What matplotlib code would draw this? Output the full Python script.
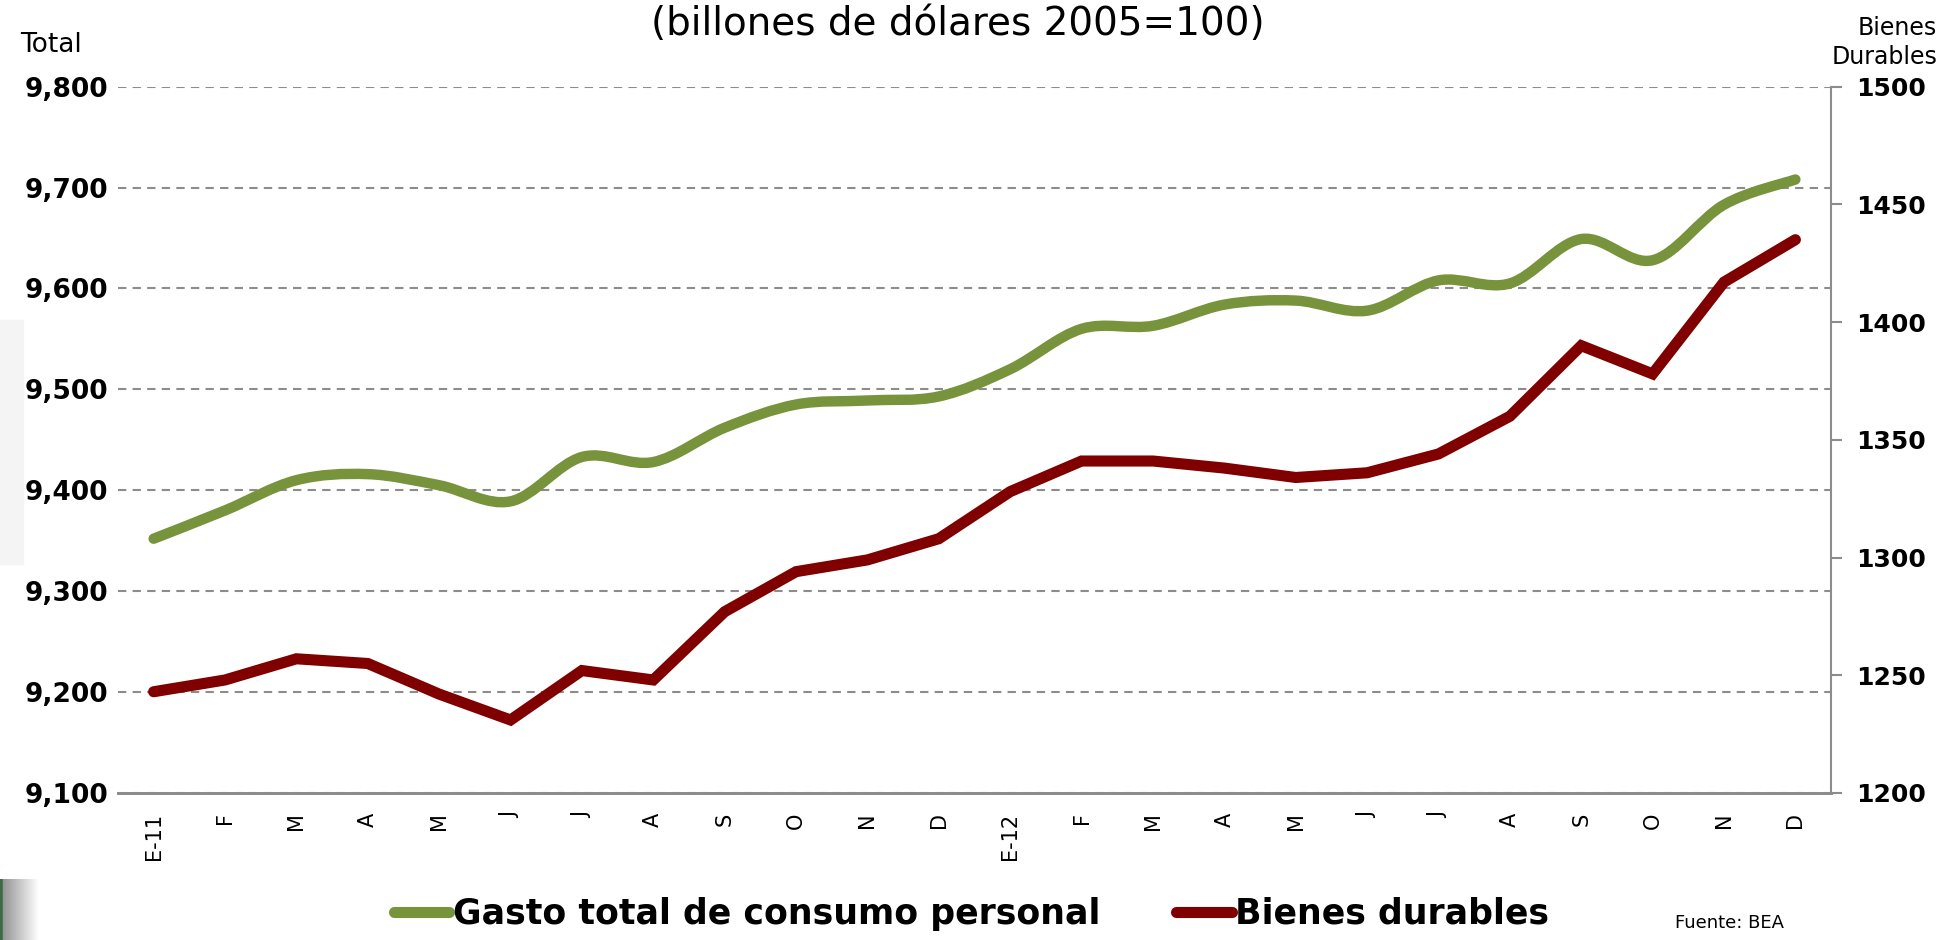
import numpy as np
import matplotlib.pyplot as plt
from matplotlib.path import Path
from matplotlib.patches import PathPatch, Rectangle
from matplotlib.lines import Line2D
from matplotlib.ticker import FuncFormatter, MultipleLocator

meses = ['E-11', 'F', 'M', 'A', 'M', 'J', 'J', 'A', 'S', 'O', 'N', 'D',
         'E-12', 'F', 'M', 'A', 'M', 'J', 'J', 'A', 'S', 'O', 'N', 'D']
gasto_total = [9352, 9380, 9410, 9416, 9405, 9389, 9433, 9428, 9462, 9485, 9489, 9493,
               9520, 9560, 9563, 9584, 9588, 9578, 9608, 9605, 9649, 9628, 9683, 9708]
bienes_durables = [1243, 1248, 1257, 1255, 1242, 1231, 1252, 1248, 1277, 1294, 1299, 1308,
                   1328, 1341, 1341, 1338, 1334, 1336, 1344, 1360, 1390, 1378, 1417, 1435]

verde = '#77933C'
rojo = '#800000'
gris = '#8C8C8C'

fig = plt.figure(figsize=(19.43, 9.40), dpi=100)

# slide decorations at the left edge
fig.patches.append(Rectangle((0, 0.40), 0.012, 0.26, transform=fig.transFigure,
                             color='#f4f4f4', zorder=0))

ax = fig.add_axes([0.0607, 0.1564, 0.8817, 0.7514])
ax2 = ax.twinx()

x = np.arange(len(meses))

# smoothed line (excel style) built as bezier path through the data points
pts = np.column_stack([x, gasto_total]).astype(float)
verts = [pts[0]]
codes = [Path.MOVETO]
for i in range(len(pts) - 1):
    p0 = pts[i - 1] if i > 0 else pts[i]
    p1 = pts[i]
    p2 = pts[i + 1]
    p3 = pts[i + 2] if i + 2 < len(pts) else pts[i + 1]
    c1 = p1 + (p2 - p0) / 6
    c2 = p2 - (p3 - p1) / 6
    verts += [c1, c2, p2]
    codes += [Path.CURVE4] * 3
ax.add_patch(PathPatch(Path(verts, codes), facecolor='none', edgecolor=verde,
                       lw=7.5, capstyle='round', joinstyle='round', zorder=3))

ax2.plot(x, bienes_durables, color=rojo, lw=8, solid_capstyle='round',
         solid_joinstyle='miter', zorder=3)

ax.set_xlim(-0.5, len(meses) - 0.5)
ax.set_ylim(9100, 9800)
ax2.set_ylim(1200, 1500)

ax.yaxis.set_major_locator(MultipleLocator(100))
ax.yaxis.set_major_formatter(FuncFormatter(lambda v, p: f'{v:,.0f}'))
ax2.yaxis.set_major_locator(MultipleLocator(50))

ax.grid(axis='y', color=gris, ls=(0, (4, 3)), lw=1.5)
ax.set_axisbelow(True)

ax.set_xticks(x)
ax.set_xticklabels(meses, rotation=90, fontsize=15)
ax.tick_params(axis='x', length=0, pad=14)
ax.tick_params(axis='y', length=0, pad=7, labelsize=19)
ax2.tick_params(axis='y', length=8, width=1.5, color=gris, pad=10, labelsize=18)
for lab in ax.get_yticklabels() + ax2.get_yticklabels():
    lab.set_fontweight('bold')

for a in (ax, ax2):
    for s in ('top', 'left', 'right'):
        a.spines[s].set_visible(False)
    a.spines['bottom'].set_color(gris)
    a.spines['bottom'].set_linewidth(2)
ax2.spines['right'].set_visible(True)
ax2.spines['right'].set_color(gris)
ax2.spines['right'].set_linewidth(1.5)

fig.text(0.4928, 0.975, '(billones de dólares 2005=100)', ha='center', va='center',
         fontsize=28)
fig.text(0.026, 0.952, 'Total', ha='center', va='center', fontsize=19)
fig.text(0.997, 0.955, 'Bienes\nDurables', ha='right', va='center', fontsize=17,
         linespacing=1.25)
fig.text(0.89, 0.018, 'Fuente: BEA', ha='center', va='center', fontsize=13)

handles = [Line2D([], [], color=verde, lw=8, solid_capstyle='round'),
           Line2D([], [], color=rojo, lw=8, solid_capstyle='round')]
fig.legend(handles, ['Gasto total de consumo personal', 'Bienes durables'],
           loc='center', bbox_to_anchor=(0.5, 0.028), ncol=2, frameon=False,
           prop={'weight': 'bold', 'size': 25},
           handlelength=1.6, handletextpad=0.1, columnspacing=2.2)

grad = np.linspace(0.55, 1, 50)[None, :]
gax = fig.add_axes([0, 0, 0.02, 0.065])
gax.imshow(np.dstack([grad, grad, grad]), aspect='auto')
gax.axvline(0, color='#3d6b45', lw=4)
gax.axis('off')

fig.savefig('out.png', dpi=100)
